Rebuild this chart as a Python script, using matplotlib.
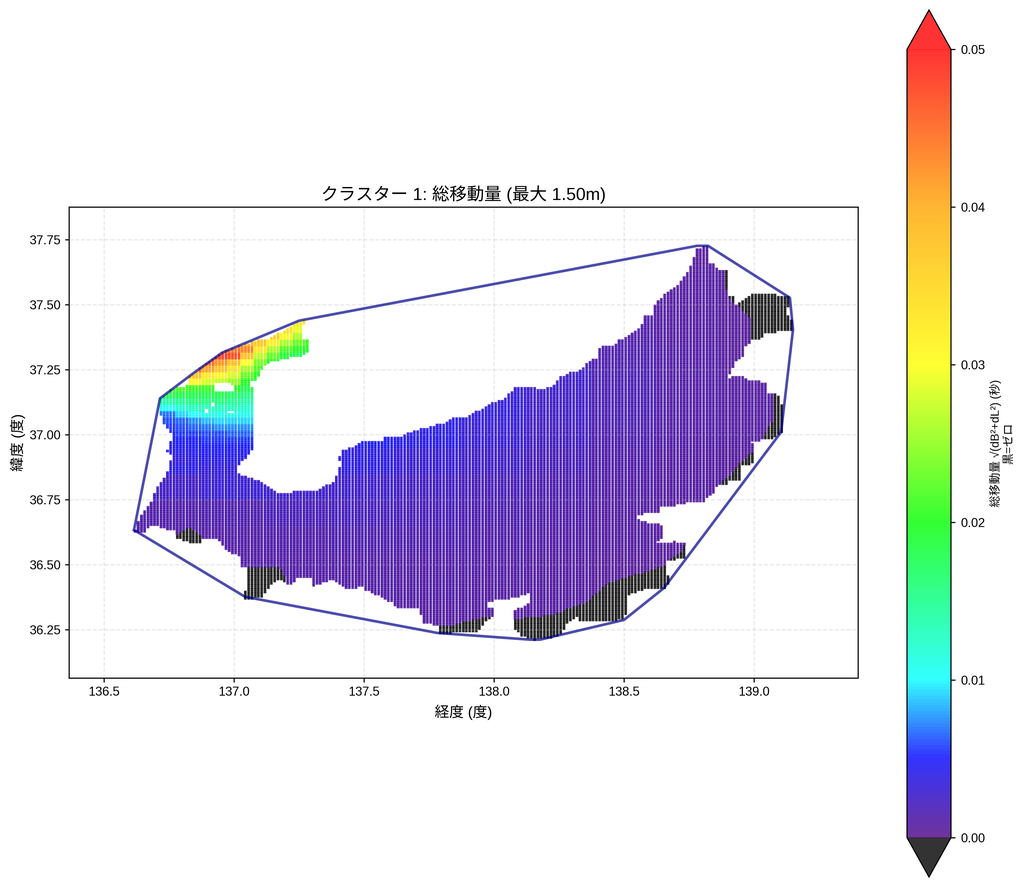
from io import BytesIO

import numpy as np
import matplotlib

matplotlib.use("Agg")
import matplotlib.pyplot as plt
from matplotlib.colors import LinearSegmentedColormap
from matplotlib.path import Path
from PIL import Image

plt.rcParams["font.family"] = ["Liberation Sans", "Noto Sans CJK JP", "DejaVu Sans"]

# -------- values --------
HULL = [
    (136.615, 36.634), (136.715, 37.140), (136.842, 37.236), (136.954, 37.316),
    (137.250, 37.439), (138.781, 37.727), (138.823, 37.727), (139.138, 37.527),
    (139.150, 37.405), (139.104, 37.010), (138.654, 36.411), (138.500, 36.288),
    (138.177, 36.212), (138.140, 36.212), (137.781, 36.238), (137.042, 36.377),
    (136.615, 36.634),
]

LAND = [
    (136.615, 36.626), (136.638, 36.680), (136.669, 36.722), (136.688, 36.756),
    (136.704, 36.799), (136.727, 36.825), (136.742, 36.856), (136.754, 36.891),
    (136.762, 36.921), (136.742, 36.933), (136.754, 36.967), (136.765, 37.002),
    (136.727, 37.044), (136.719, 37.067), (136.715, 37.140), (136.765, 37.178),
    (136.819, 37.190), (136.823, 37.217), (136.850, 37.240), (136.908, 37.286),
    (136.958, 37.320), (137.023, 37.339), (137.100, 37.366), (137.138, 37.370),
    (137.204, 37.408), (137.242, 37.435), (137.281, 37.439), (137.265, 37.420),
    (137.265, 37.370), (137.285, 37.366), (137.285, 37.316), (137.265, 37.305),
    (137.204, 37.293), (137.150, 37.282), (137.112, 37.267), (137.092, 37.217),
    (137.062, 37.201), (137.073, 37.178), (137.073, 37.044), (137.073, 36.952),
    (137.054, 36.921), (137.015, 36.883), (137.015, 36.856), (137.031, 36.845),
    (137.069, 36.833), (137.100, 36.818), (137.138, 36.795), (137.169, 36.779),
    (137.227, 36.779), (137.262, 36.783), (137.323, 36.779), (137.342, 36.799),
    (137.388, 36.818), (137.396, 36.852), (137.408, 36.883), (137.404, 36.914),
    (137.415, 36.941), (137.458, 36.952), (137.477, 36.967), (137.504, 36.975),
    (137.573, 36.975), (137.581, 36.994), (137.646, 36.994), (137.677, 37.010),
    (137.715, 37.021), (137.765, 37.033), (137.819, 37.048), (137.842, 37.067),
    (137.900, 37.067), (137.919, 37.086), (137.965, 37.102), (137.996, 37.125),
    (138.035, 37.136), (138.081, 37.182), (138.165, 37.182), (138.173, 37.175),
    (138.227, 37.182), (138.254, 37.221), (138.300, 37.244), (138.312, 37.236),
    (138.358, 37.274), (138.396, 37.297), (138.408, 37.336), (138.454, 37.343),
    (138.485, 37.366), (138.523, 37.385), (138.562, 37.412), (138.581, 37.458),
    (138.608, 37.458), (138.619, 37.501), (138.646, 37.527), (138.665, 37.547),
    (138.715, 37.585), (138.742, 37.623), (138.765, 37.669), (138.781, 37.719),
    (138.827, 37.723), (138.827, 37.677), (138.819, 37.658), (138.854, 37.658),
    (138.858, 37.635), (138.904, 37.635), (138.904, 37.535), (138.927, 37.527),
    (138.931, 37.504), (138.958, 37.516), (138.992, 37.543), (139.131, 37.535),
    (139.138, 37.516), (139.123, 37.466), (139.146, 37.439), (139.150, 37.401),
    (139.050, 37.393), (139.023, 37.370), (138.992, 37.370), (138.985, 37.351),
    (138.965, 37.343), (138.958, 37.305), (138.919, 37.278), (138.919, 37.255),
    (138.896, 37.217), (138.919, 37.221), (138.965, 37.228), (138.973, 37.209),
    (139.050, 37.201), (139.054, 37.159), (139.100, 37.152), (139.112, 37.086),
    (139.112, 37.010), (139.073, 36.987), (138.992, 36.975), (139.004, 36.941),
    (138.996, 36.891), (138.954, 36.879), (138.954, 36.829), (138.908, 36.825),
    (138.900, 36.810), (138.858, 36.806), (138.850, 36.776), (138.819, 36.760),
    (138.815, 36.741), (138.746, 36.741), (138.727, 36.733), (138.638, 36.722),
    (138.638, 36.703), (138.542, 36.691), (138.562, 36.672), (138.592, 36.661),
    (138.638, 36.661), (138.650, 36.645), (138.650, 36.603), (138.631, 36.595),
    (138.631, 36.584), (138.696, 36.588), (138.738, 36.584), (138.738, 36.530),
    (138.685, 36.519), (138.665, 36.515), (138.665, 36.469), (138.677, 36.442),
    (138.658, 36.411), (138.588, 36.411), (138.512, 36.384), (138.515, 36.346),
    (138.500, 36.288), (138.331, 36.285), (138.319, 36.300), (138.285, 36.281),
    (138.265, 36.242), (138.235, 36.223), (138.158, 36.212), (138.112, 36.223),
    (138.081, 36.250), (138.069, 36.288), (138.069, 36.319), (138.131, 36.346),
    (138.138, 36.392), (138.073, 36.373), (137.977, 36.358), (137.977, 36.334),
    (138.004, 36.327), (138.004, 36.308), (137.965, 36.281), (137.935, 36.242),
    (137.785, 36.235), (137.781, 36.265), (137.723, 36.281), (137.715, 36.334),
    (137.627, 36.334), (137.608, 36.354), (137.581, 36.369), (137.535, 36.388),
    (137.504, 36.404), (137.492, 36.415), (137.427, 36.407), (137.381, 36.442),
    (137.338, 36.430), (137.304, 36.415), (137.300, 36.450), (137.242, 36.446),
    (137.235, 36.430), (137.204, 36.427), (137.177, 36.442), (137.150, 36.430),
    (137.119, 36.396), (137.108, 36.373), (137.042, 36.369), (137.042, 36.396),
    (137.050, 36.415), (137.050, 36.488), (137.031, 36.492), (137.023, 36.530),
    (136.992, 36.545), (136.965, 36.565), (136.938, 36.603), (136.877, 36.603),
    (136.877, 36.584), (136.831, 36.584), (136.781, 36.603), (136.773, 36.634),
    (136.727, 36.638), (136.704, 36.649), (136.677, 36.649), (136.658, 36.626),
]

HOLES = [
    [(136.927, 37.198), (136.992, 37.198), (137.000, 37.163), (136.923, 37.163)],
    [(136.892, 37.102), (136.904, 37.102), (136.904, 37.086), (136.892, 37.086)],
    [(136.977, 37.094), (137.004, 37.094), (137.004, 37.086), (136.977, 37.086)],
    [(136.915, 37.121), (136.931, 37.121), (136.931, 37.110), (136.915, 37.110)],
]

# places where the total movement is exactly zero (drawn black)
ZERO_ZONES = [
    [(136.773, 36.603), (136.785, 36.622), (136.831, 36.645), (136.877, 36.607),
     (136.885, 36.576), (136.815, 36.576)],
    [(137.046, 36.492), (137.131, 36.488), (137.177, 36.488), (137.208, 36.434),
     (137.158, 36.434), (137.119, 36.392), (137.108, 36.365), (137.023, 36.365)],
    [(137.773, 36.269), (137.842, 36.269), (137.881, 36.281), (137.965, 36.300),
     (137.992, 36.300), (138.004, 36.288), (137.946, 36.227), (137.773, 36.227)],
    [(138.062, 36.288), (138.138, 36.300), (138.227, 36.308), (138.292, 36.335),
     (138.358, 36.358), (138.435, 36.431), (138.512, 36.453), (138.638, 36.492),
     (138.669, 36.507), (138.715, 36.404), (138.504, 36.258), (138.227, 36.192),
     (138.062, 36.192)],
    [(138.685, 36.526), (138.723, 36.557), (138.735, 36.588), (138.754, 36.588),
     (138.754, 36.519), (138.669, 36.507)],
    [(138.815, 36.756), (138.850, 36.783), (138.869, 36.810), (138.919, 36.856),
     (138.938, 36.883), (138.996, 36.937), (139.023, 36.883), (138.965, 36.806),
     (138.850, 36.749)],
    [(139.081, 37.159), (139.081, 37.067), (139.050, 37.025), (139.031, 36.975),
     (139.127, 36.975), (139.127, 37.159)],
    [(138.881, 37.639), (138.915, 37.639), (138.915, 37.531), (138.938, 37.527),
     (138.938, 37.504), (138.958, 37.524), (138.992, 37.554), (139.177, 37.554),
     (139.177, 37.343), (138.992, 37.343), (138.988, 37.439), (138.965, 37.470),
     (138.927, 37.504), (138.904, 37.527), (138.888, 37.573)],
]

# movement over most of the area, in units of 0.001
MAIN_LONS = [136.5, 136.75, 137.0, 137.25, 137.5, 137.75, 138.0, 138.25, 138.5, 138.75, 139.0, 139.25]
MAIN_LATS = [37.7, 37.6, 37.5, 37.4, 37.3, 37.2, 37.1, 37.0, 36.9, 36.8, 36.7, 36.6, 36.5, 36.4, 36.3, 36.2]
MAIN_VALUES = [
    [0.7, 0.7, 0.7, 0.7, 0.7, 0.7, 0.7, 0.7, 0.7, 0.7, 0.7, 0.7],
    [0.8, 0.8, 0.8, 0.8, 0.8, 0.8, 0.8, 0.8, 0.8, 0.8, 0.7, 0.7],
    [1.2, 1.2, 1.2, 1.2, 1.2, 1.2, 1.2, 1.2, 1.1, 0.8, 0.6, 0.6],
    [1.8, 1.8, 1.8, 1.8, 1.8, 1.8, 1.8, 1.6, 1.2, 0.9, 0.6, 0.6],
    [2.6, 2.6, 2.6, 2.6, 2.6, 2.6, 2.6, 2.2, 1.5, 1.0, 0.7, 0.7],
    [3.6, 3.6, 3.6, 3.6, 3.6, 3.6, 3.2, 2.6, 1.7, 1.1, 0.8, 0.8],
    [4.5, 4.5, 4.5, 4.5, 4.5, 4.2, 3.4, 2.4, 1.6, 1.1, 0.8, 0.8],
    [4.8, 4.8, 4.8, 4.8, 4.8, 4.0, 3.0, 2.2, 1.4, 1.0, 0.8, 0.8],
    [4.0, 4.0, 3.5, 3.8, 3.8, 3.0, 2.4, 1.8, 1.2, 0.9, 0.7, 0.7],
    [2.5, 2.5, 3.0, 2.6, 2.6, 2.2, 1.8, 1.4, 1.0, 0.8, 0.7, 0.7],
    [1.2, 1.2, 1.4, 1.8, 2.0, 1.8, 1.4, 1.2, 0.9, 0.7, 0.7, 0.7],
    [1.0, 1.0, 1.0, 1.2, 1.4, 1.4, 1.2, 1.0, 0.8, 0.7, 0.7, 0.7],
    [1.0, 1.0, 1.0, 1.0, 1.1, 1.1, 1.0, 0.8, 0.7, 0.7, 0.7, 0.7],
    [1.0, 1.0, 1.0, 1.0, 1.0, 1.0, 0.9, 0.8, 0.7, 0.7, 0.7, 0.7],
    [0.9, 0.9, 0.9, 0.9, 0.9, 0.9, 0.8, 0.8, 0.7, 0.7, 0.7, 0.7],
    [0.9, 0.9, 0.9, 0.9, 0.9, 0.9, 0.8, 0.8, 0.7, 0.7, 0.7, 0.7],
]

# finer readings for the north-west corner, in units of 0.001
NW_LONS = [136.70, 136.75, 136.80, 136.85, 136.90, 136.95, 137.00, 137.05, 137.10, 137.15, 137.20, 137.25, 137.30]
NW_LATS = [37.450, 37.425, 37.400, 37.375, 37.350, 37.325, 37.300, 37.275, 37.250, 37.225, 37.200, 37.175, 37.150,
           37.125, 37.100, 37.075, 37.050, 37.025, 37.000, 36.975, 36.950, 36.925, 36.900]
NW_VALUES = [
    [40, 40, 40, 40, 40, 40, 40, 40, 40, 36, 35, 34, 31],
    [40, 40, 40, 40, 40, 40, 40, 40, 40, 36, 35, 33, 30],
    [40, 40, 40, 40, 40, 40, 40, 40, 40, 37, 34, 29, 27],
    [40, 40, 40, 40, 40, 40, 40, 40, 38, 36, 31, 26, 24],
    [42, 42, 42, 42, 42, 42, 42, 40, 37, 32, 26, 23, 21],
    [44, 44, 44, 44, 44, 44, 44, 43, 33, 26, 22, 20, 19],
    [48, 48, 48, 48, 48, 48, 47, 38, 27, 23, 19, 18, 18],
    [46, 46, 46, 46, 45, 42, 38, 30, 24, 20, 18, 18, 18],
    [44, 44, 44, 45, 41, 37, 33, 26, 22, 18, 18, 18, 18],
    [42, 42, 42, 38, 33, 31, 28, 23, 20, 18, 18, 18, 18],
    [34, 34, 34, 31, 28, 27, 25, 20, 18, 18, 18, 18, 18],
    [22, 22, 22, 21, 21, 21, 20, 18, 17, 17, 17, 17, 17],
    [19, 18, 18, 18, 18, 18, 17, 16, 16, 16, 16, 16, 16],
    [14, 14, 15, 16, 16, 16, 15, 14, 14, 14, 14, 14, 14],
    [11, 10, 12, 13, 13, 13, 13, 12, 12, 12, 12, 12, 12],
    [7, 7, 9, 10, 11, 11, 11, 11, 11, 11, 11, 11, 11],
    [6, 6, 6.5, 7.5, 8.5, 9, 9, 9, 9, 9, 9, 9, 9],
    [5.5, 5.5, 6, 6.5, 7, 7.5, 7.5, 7.5, 7.5, 7.5, 7.5, 7.5, 7.5],
    [5, 5, 5.5, 5.5, 6, 6, 6.5, 6.5, 6.5, 6.5, 6.5, 6.5, 6.5],
    [4.5, 4.8, 5, 5, 5.5, 5.5, 5.5, 5.5, 5.5, 5.5, 5.5, 5.5, 5.5],
    [4, 4.5, 4.5, 4.5, 5, 5, 5, 5, 5, 5, 5, 5, 5],
    [4, 4, 4, 4.5, 4.5, 4.5, 4.5, 4.5, 4.5, 4.5, 4.5, 4.5, 4.5],
    [3.5, 3.5, 3.5, 3.8, 4, 4, 4, 4, 4, 4, 4, 4, 4],
]

TICKS = [0.0, 0.01, 0.02, 0.03, 0.04, 0.05]
# mesh of 45 by 30 seconds of arc
GRID_LON_STEP = 1 / 80
GRID_LAT_STEP = 1 / 120

# -------- build the point grid --------
lon_grid, lat_grid = np.meshgrid(
    np.arange(136.61875, 139.2, GRID_LON_STEP), np.arange(36.2 + 1 / 240, 37.75, GRID_LAT_STEP)
)
points = np.column_stack([lon_grid.ravel(), lat_grid.ravel()])

inside = Path(LAND + LAND[:1]).contains_points(points)
for hole in HOLES:
    inside &= ~Path(hole + hole[:1]).contains_points(points)
points = points[inside]

is_zero = np.zeros(len(points), dtype=bool)
for zone in ZERO_ZONES:
    is_zero |= Path(zone + zone[:1]).contains_points(points)


def nearest(axis_values, wanted):
    axis_values = np.asarray(axis_values)
    return np.abs(wanted[:, None] - axis_values[None, :]).argmin(axis=1)


lon, lat = points[:, 0], points[:, 1]
values = np.array(MAIN_VALUES)[nearest(MAIN_LATS, lat), nearest(MAIN_LONS, lon)]
in_corner = (lon < 137.325) & (lat > 36.8875)
values[in_corner] = np.array(NW_VALUES)[
    nearest(NW_LATS, lat[in_corner]), nearest(NW_LONS, lon[in_corner])
]
values = values * 0.001

# -------- colormap --------
cmap = LinearSegmentedColormap.from_list(
    "movement",
    [
        (0.0, "#4B0082"),
        (0.1, "#0000FF"),
        (0.2, "#00FFFF"),
        (0.4, "#00FF00"),
        (0.6, "#FFFF00"),
        (0.8, "#FFA500"),
        (1.0, "#FF0000"),
    ],
)
cmap.set_under("black")
cmap.set_over("red")

# -------- figure --------
fig = plt.figure(figsize=(10.24, 8.86), dpi=100)
ax = fig.add_axes([69 / 1024, 1 - 678 / 886, 789 / 1024, 471 / 886])

ax.scatter(lon[is_zero], lat[is_zero], c="black", s=4, marker="s", alpha=0.8, linewidths=0)
sc = ax.scatter(
    lon[~is_zero], lat[~is_zero], c=values[~is_zero], s=4, marker="s",
    alpha=0.8, linewidths=0, cmap=cmap, vmin=0, vmax=0.05,
)

hull_lon, hull_lat = zip(*HULL)
ax.plot(hull_lon, hull_lat, color="darkblue", linewidth=1.9, alpha=0.7)

ax.set_xlim(136.365, 139.4)
ax.set_ylim(36.0645, 37.8763)
ax.set_aspect("equal")
ax.set_xticks([136.5, 137.0, 137.5, 138.0, 138.5, 139.0])
ax.set_yticks([36.25, 36.5, 36.75, 37.0, 37.25, 37.5, 37.75])
ax.xaxis.set_major_formatter("{x:.1f}")
ax.yaxis.set_major_formatter("{x:.2f}")
ax.tick_params(labelsize=9, length=3, pad=3)
ax.grid(True, linestyle="--", alpha=0.3)
ax.set_xlabel("経度 (度)", fontsize=10.5, labelpad=4.5)
ax.set_ylabel("緯度 (度)", fontsize=10.5, labelpad=3)
ax.set_title("クラスター 1: 総移動量 (最大 1.50m)", fontsize=12.5, pad=5)

cax = fig.add_axes([907 / 1024, 1 - 877 / 886, 44 / 1024, 867 / 886])
cbar = fig.colorbar(sc, cax=cax, extend="both", ticks=TICKS)
cbar.ax.yaxis.set_major_formatter("{x:.2f}")
cbar.ax.tick_params(labelsize=9, length=3, pad=4)
cbar.set_label("総移動量 √(dB²+dL²) (秒)\n黒=ゼロ", fontsize=8.3, labelpad=3)

# drawn large and scaled down, that gives the soft look of the marks
buf = BytesIO()
fig.savefig(buf, format="png", dpi=300)
buf.seek(0)
Image.open(buf).convert("RGB").resize((1024, 886), Image.LANCZOS).save("out.png")
